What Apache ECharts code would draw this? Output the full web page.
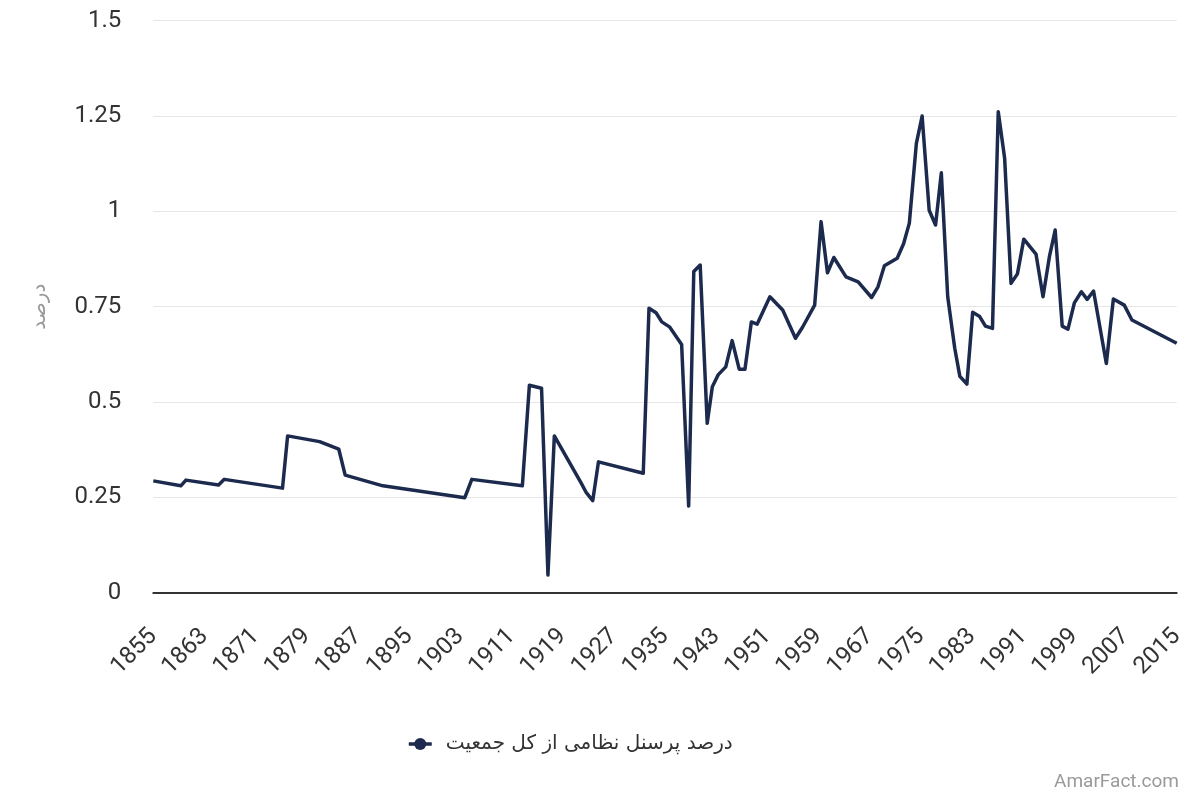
<!DOCTYPE html>
<html>
<head>
<meta charset="utf-8">
<script src="https://cdn.jsdelivr.net/npm/echarts@6/dist/echarts.min.js"></script>
<style>
  html, body { margin: 0; padding: 0; background: #fff; }
  #container { width: 1200px; height: 800px; }
</style>
</head>
<body>
<div id="container"></div>
<script>
// برچسب‌های محور افقی: هر سال یک دسته، هر ۸ سال یک برچسب
var years = [];
for (var y = 1855; y <= 2015; y++) {
    years.push(String(y));
}

// محل شکست‌های خط (سال، از روی تصویر خوانده شده) و مقدار درصد
var pointYears = [1855.0, 1859.3, 1860.1, 1865.2, 1866.1, 1875.2, 1876.0, 1881.0, 1884.0, 1885.0,
    1890.9, 1903.7, 1904.8, 1912.7, 1913.8, 1915.7, 1916.7, 1917.7, 1921.9, 1922.7,
    1923.7, 1924.6, 1931.6, 1932.5, 1933.6, 1934.5, 1935.7, 1937.6, 1938.7, 1939.5,
    1940.5, 1941.6, 1942.4, 1943.3, 1944.5, 1945.5, 1946.6, 1947.5, 1948.5, 1949.4,
    1951.4, 1953.4, 1955.4, 1956.5, 1958.4, 1959.4, 1960.4, 1961.4, 1963.3, 1965.2,
    1967.3, 1968.3, 1969.3, 1971.3, 1972.3, 1973.2, 1974.3, 1975.2, 1976.3, 1977.3,
    1978.2, 1979.2, 1980.3, 1981.1, 1982.2, 1983.1, 1984.2, 1985.1, 1986.2, 1987.1,
    1988.1, 1989.1, 1990.1, 1991.1, 1993.0, 1994.1, 1995.1, 1996.0, 1997.1, 1998.0,
    1999.0, 2000.1, 2001.0, 2002.0, 2004.0, 2005.1, 2006.8, 2008.0, 2015.0];
var pointValues = [0.293, 0.280, 0.295, 0.282, 0.297, 0.274, 0.411, 0.396, 0.376, 0.308,
    0.280, 0.249, 0.297, 0.280, 0.544, 0.536, 0.046, 0.411, 0.287, 0.262,
    0.241, 0.343, 0.313, 0.746, 0.734, 0.710, 0.697, 0.651, 0.227, 0.842,
    0.859, 0.444, 0.540, 0.571, 0.592, 0.661, 0.586, 0.586, 0.710, 0.704,
    0.776, 0.741, 0.667, 0.696, 0.754, 0.973, 0.839, 0.879, 0.828, 0.815,
    0.774, 0.802, 0.857, 0.877, 0.915, 0.969, 1.178, 1.250, 1.003, 0.964,
    1.101, 0.776, 0.641, 0.567, 0.547, 0.735, 0.724, 0.699, 0.693, 1.261,
    1.139, 0.811, 0.836, 0.927, 0.888, 0.776, 0.881, 0.951, 0.699, 0.691,
    0.760, 0.789, 0.769, 0.791, 0.601, 0.770, 0.754, 0.715, 0.654];

var seriesName = 'درصد پرسنل نظامی از کل جمعیت';
var yName = 'درصد';

var lineData = pointYears.map(function (yr, i) {
    return [yr, pointValues[i]];
});

var font = 'Roboto, "DejaVu Sans", sans-serif';
var navy = '#1c2a4d';

var dom = document.getElementById("container");
var myChart = echarts.init(dom);
var option;

option = {
    animation: false,
    textStyle: { fontFamily: font },
    grid: {
        left: 153.3,
        right: 23.3,
        top: 20.7,
        bottom: 207.4,
        containLabel: false
    },
    legend: {
        left: 402,
        top: 729,
        itemWidth: 23,
        itemHeight: 15,
        lineStyle: { width: 3.5, color: navy },
        itemStyle: { color: navy },
        textStyle: {
            fontSize: 20,
            color: '#333',
            padding: [0, 0, 0, 9],
            fontFamily: '"DejaVu Sans", Roboto, sans-serif'
        },
        data: [seriesName]
    },
    xAxis: [
        {
            // محور نمایشی با برچسب سال‌ها
            type: 'category',
            boundaryGap: false,
            data: years,
            axisLine: {
                show: true,
                lineStyle: { color: '#333', width: 2 }
            },
            axisTick: { show: false },
            axisLabel: {
                interval: 7,
                rotate: 45,
                margin: 40,
                fontSize: 24,
                color: '#333'
            },
            splitLine: { show: false }
        },
        {
            // محور عددی پنهان برای جای دقیق نقطه‌ها
            type: 'value',
            min: 1855,
            max: 2015,
            show: false
        }
    ],
    yAxis: {
        type: 'value',
        min: 0,
        max: 1.5,
        interval: 0.25,
        name: yName,
        nameLocation: 'middle',
        nameGap: 104,
        nameRotate: 90,
        nameTextStyle: {
            color: '#999',
            fontSize: 20,
            fontFamily: '"DejaVu Sans", sans-serif'
        },
        axisLine: { show: false },
        axisTick: { show: false },
        axisLabel: {
            margin: 32,
            fontSize: 24,
            color: '#333'
        },
        splitLine: {
            lineStyle: { color: '#e6e6e6', width: 1 }
        }
    },
    graphic: [{
        type: 'text',
        right: 21,
        top: 773,
        style: {
            text: 'AmarFact.com',
            fill: '#9a9a9a',
            font: '19px Roboto, sans-serif'
        }
    }],
    series: [
        {
            name: seriesName,
            type: 'line',
            xAxisIndex: 1,
            data: lineData,
            showSymbol: false,
            symbol: 'circle',
            symbolSize: 14,
            color: navy,
            lineStyle: { color: navy, width: 3.5, join: 'round' },
            itemStyle: { color: navy }
        }
    ]
};

if (option && typeof option === 'object') {
    myChart.setOption(option);
}
</script>
</body>
</html>
